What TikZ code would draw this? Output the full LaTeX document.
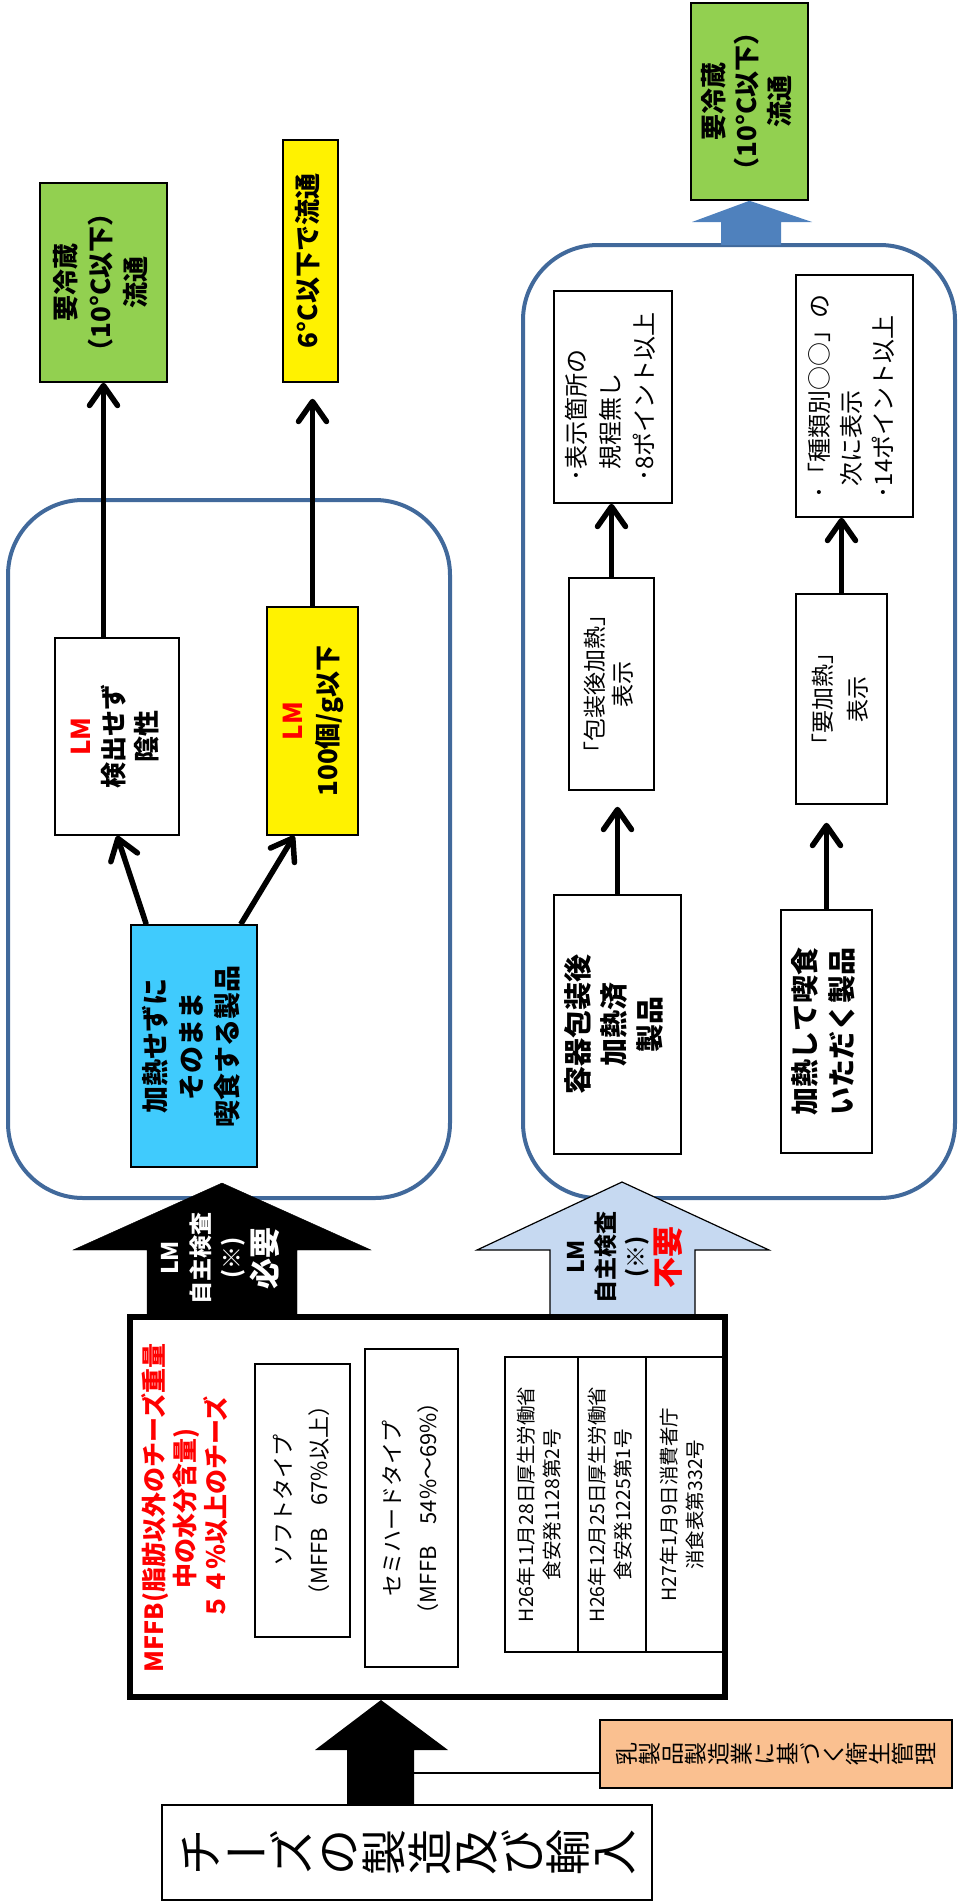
\documentclass[tikz,border=0pt]{standalone}
\usepackage{fontspec}
\setmainfont{Noto Sans CJK JP}
\usepackage{graphicx}
\usetikzlibrary{arrows.meta,positioning}

\definecolor{panelblue}{HTML}{41699B}
\definecolor{lmgreen}{HTML}{92D050}
\definecolor{lmcyan}{HTML}{40CBFD}
\definecolor{lmorange}{HTML}{FAC090}
\definecolor{lmpale}{HTML}{C6D9F1}
\definecolor{lmsteel}{HTML}{4F81BD}

\newcommand{\vlines}[2][c]{\rotatebox{90}{\begin{tabular}{@{}#1@{}}#2\end{tabular}}}
\newcommand{\vchar}[1]{\rotatebox[origin=c]{90}{\makebox[1em]{\rule[-0.12em]{0pt}{1em}#1}}}
\newcommand{\tate}[1]{\foreach \g in {#1}{\vchar{\g}}}

\begin{document}
\begin{tikzpicture}[x=1pt, y=-1pt,
box/.style={draw, line width=1.5pt, inner sep=0pt},
panel/.style={draw=panelblue, line width=4pt, rounded corners=75pt},
arr/.style={line width=5.5pt, -{Straight Barb[length=20pt,width=28pt,round]}},
fnt/.style 2 args={font=\fontsize{#1}{#2}\selectfont},
bfnt/.style 2 args={font=\bfseries\fontsize{#1}{#2}\selectfont}]

    \useasboundingbox (0,0) rectangle (958,1903);

    % the two groups
    \draw[panel] (8,500) rectangle (450,1198);
    \draw[panel] (523,245) rectangle (955,1198);

    % left group: eaten without heating
    \node[box, fill=lmgreen, minimum width=127pt, minimum height=199pt, bfnt={26}{35}] (cold1) at (103.5,282.5) {\vlines{要冷蔵\\（10°C以下）\\流通}};
    \node[box, fill=yellow, minimum width=55pt, minimum height=242pt, bfnt={26}{35}] (cold6) at (310.5,261) {\vlines{6°C以下で流通}};
    \node[box, fill=white, minimum width=124pt, minimum height=197pt, bfnt={26}{33}] (neg) at (117,736.5) {\vlines{\textcolor{red}{LM}\\検出せず\\陰性}};
    \node[box, fill=yellow, minimum width=91pt, minimum height=228pt, bfnt={26}{35}] (low) at (312.5,721) {\vlines{\textcolor{red}{LM}\\100個/g以下}};
    \node[box, fill=lmcyan, minimum width=126pt, minimum height=242pt, bfnt={27}{36}] (raw) at (194,1046) {\vlines{加熱せずに\\そのまま\\喫食する製品}};

    \draw[arr] (neg.north -| cold1.south) -- (cold1.south);
    \draw[arr, shorten >=16pt] (low.north) -- (low.north |- cold6.south);
    \draw[arr] ([xshift=16pt]raw.north west) -- (neg.south);
    \draw[arr] ([xshift=-17pt]raw.north east) -- ([xshift=28pt]low.south west);

    % right group: heated products
    \node[box, fill=lmgreen, minimum width=117pt, minimum height=197pt, bfnt={26}{33}] (cold2) at (749.5,101.5) {\vlines{要冷蔵\\（10°C以下）\\流通}};
    \fill[lmsteel] (721,245) -- (721,222) -- (692,222) -- (cold2.south) -- (812,222) -- (781,222) -- (781,245) -- cycle;

    \node[box, minimum width=118pt, minimum height=212pt, fnt={24}{34}] (pkgnote) at (613,397) {\vlines[l]{･表示箇所の\\\hspace*{0.5em}規程無し\\･8ポイント以上}};
    \node[box, minimum width=85pt, minimum height=212pt, fnt={23}{28}] (pkglabel) at (611.5,684) {\vlines{「包装後加熱」\\表示}};
    \node[box, minimum width=127pt, minimum height=259pt, bfnt={28}{36}] (pkgprod) at (617.5,1024.5) {\vlines{容器包装後\\加熱済\\製品}};
    \node[box, minimum width=117pt, minimum height=242pt, fnt={24}{32}] (heatnote) at (854.5,396) {\vlines[l]{･「種類別○○」の\\\hspace*{0.5em}次に表示\\･14ポイント以上}};
    \node[box, minimum width=91pt, minimum height=210pt, fnt={23}{35}] (heatlabel) at (841.5,699) {\vlines{「要加熱」\\表示}};
    \node[box, minimum width=91pt, minimum height=243pt, bfnt={28}{37}] (heatprod) at (826.5,1031.5) {\vlines{加熱して喫食\\いただく製品}};

    \draw[arr, shorten >=16pt] (pkgprod.north) -- (pkgprod.north |- pkglabel.south);
    \draw[arr] (pkglabel.north) -- (pkgnote.south -| pkglabel.north);
    \draw[arr, shorten >=18pt] (heatprod.north) -- (heatprod.north |- heatlabel.south);
    \draw[arr] (heatlabel.north) -- (heatnote.south -| heatlabel.north);

    % LM test arrows
    \filldraw[fill=black] (147,1317) -- (147,1250) -- (73,1250) -- (222,1183) -- (371,1250) -- (297,1250) -- (297,1317) -- cycle;
    \node[bfnt={23}{31}, text=white] (need) at (221,1258) {\vlines{LM\\自主検査\\(※)\\{\fontsize{31}{31}\selectfont 必要}}};
    \filldraw[fill=lmpale, line width=1.2pt] (550,1317) -- (550,1250) -- (477,1250) -- (622,1182) -- (769,1250) -- (695,1250) -- (695,1317) -- cycle;
    \node[bfnt={23}{30}] (noneed) at (626,1257) {\vlines{LM\\自主検査\\(※)\\{\fontsize{31}{31}\selectfont\color{red}不要}}};

    % cheese types
    \node[draw, line width=6pt, minimum width=595pt, minimum height=380pt] (cheese) at (427.5,1507) {};
    \node[bfnt={25}{30}, text=red] (mffb) at (188,1508) {\vlines{MFFB(脂肪以外のチーズ重量\\中の水分含量)\\５４％以上のチーズ}};
    \node[box, line width=1.2pt, minimum width=95pt, minimum height=273pt, fnt={22}{36}] (soft) at (302.5,1500.5) {\vlines{ソフトタイプ\\（MFFB　67\%以上）}};
    \node[box, line width=1.2pt, minimum width=93pt, minimum height=318pt, fnt={22}{36}] (semi) at (411.5,1508) {\vlines{セミハードタイプ\\（MFFB　54\%～69\%）}};
    \node[box, minimum width=73pt, minimum height=295pt, fnt={19.5}{26}] (law1) at (541.5,1504.5) {\vlines{H26年11月28日厚生労働省\\食安発1128第2号}};
    \node[box, minimum width=68pt, minimum height=295pt, fnt={19.5}{26}, right=-1.5pt of law1] (law2) {\vlines{H26年12月25日厚生労働省\\食安発1225第1号}};
    \node[box, minimum width=77pt, minimum height=295pt, fnt={19.5}{26}, right=-1.5pt of law2] (law3) {\vlines{H27年1月9日消費者庁\\消食表第332号}};

    % manufacture and import
    \node[box, minimum width=490pt, minimum height=95pt, fnt={46}{46}] (make) at (407,1852.5) {\tate{チ}\makebox[1em]{ー}\tate{ズ,の,製,造,及,び,輸,入}};
    \fill (347,1805) -- (347,1750) -- (315,1750) -- (381,1700) -- (448,1750) -- (414,1750) -- (414,1805) -- cycle;
    \node[box, fill=lmorange, minimum width=352pt, minimum height=68pt, fnt={23}{23}] (hyg) at (776,1754) {\tate{乳,製,品,製,造,業,に,基,づ,く,衛,生,管,理}};
    \coordinate (link) at (414,1773);
    \draw[line width=1.2pt] (link) -- (link -| hyg.west);
\end{tikzpicture}
\end{document}
